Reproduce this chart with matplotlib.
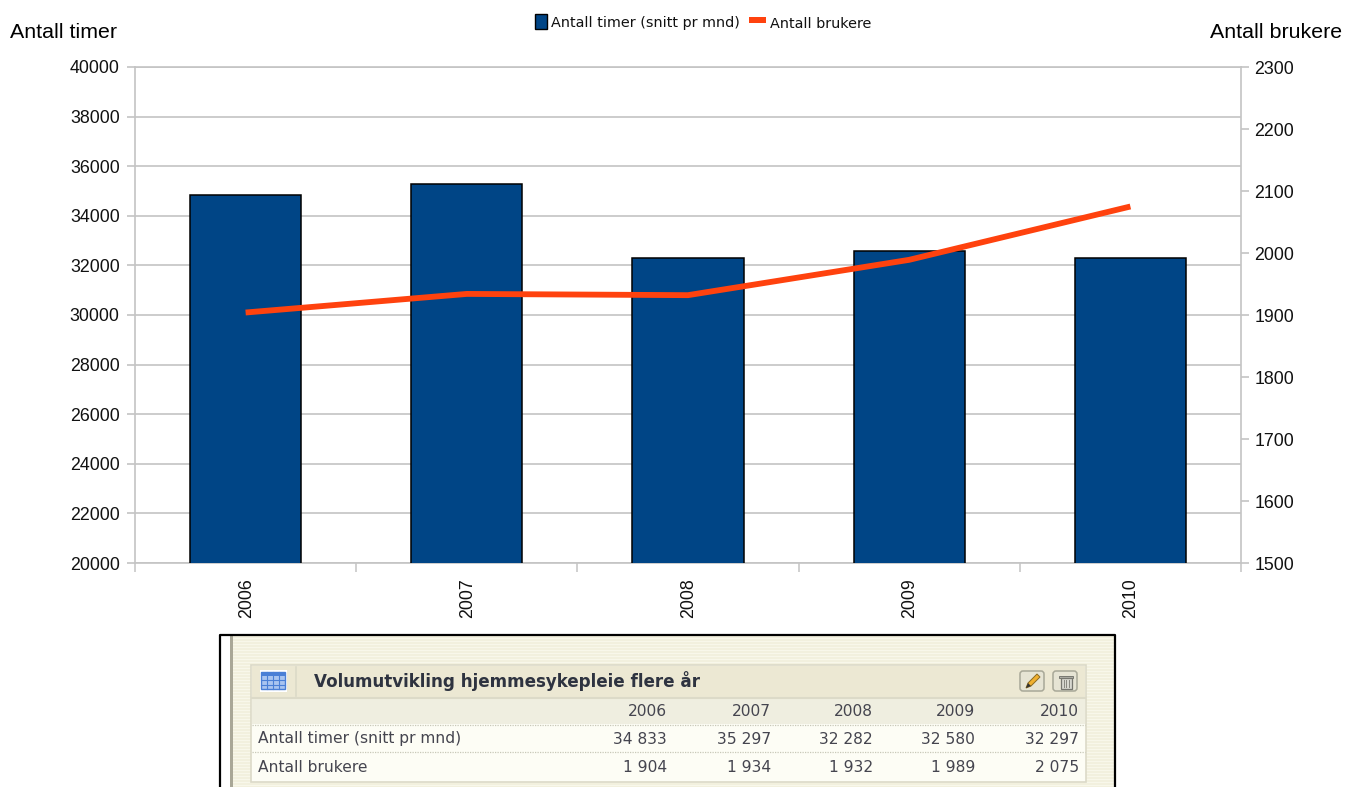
import numpy as np
import matplotlib
matplotlib.use('Agg')
import matplotlib.pyplot as plt
from matplotlib.patches import Rectangle, FancyBboxPatch, Polygon

years = ['2006', '2007', '2008', '2009', '2010']
timer = [34833, 35297, 32282, 32580, 32297]
brukere = [1904, 1934, 1932, 1989, 2075]
timer_labels = ['34 833', '35 297', '32 282', '32 580', '32 297']
brukere_labels = ['1 904', '1 934', '1 932', '1 989', '2 075']
left_ticks = list(range(20000, 40001, 2000))
right_ticks = list(range(1500, 2301, 100))

W, H = 1345, 787
plt.rcParams['font.family'] = ['Liberation Sans', 'DejaVu Sans']
fig = plt.figure(figsize=(W / 100, H / 100), dpi=100, facecolor='white')
GREY = '#c4c4c4'

# hovedgraf: stolper paa venstre akse, linje paa hoyre akse
ax = fig.add_axes([135 / W, 1 - 563 / H, (1241 - 135) / W, (563 - 67) / H])
x = np.arange(len(years))
ax.bar(x, timer, width=0.503, color='#004586', edgecolor='black', linewidth=1.1, zorder=3)
ax.set_xlim(-0.5, 4.5)
ax.set_ylim(20000, 40000)
ax.set_yticks(left_ticks)
ax.grid(axis='y', color=GREY, linewidth=1.2, zorder=0)
ax.set_xticks(np.arange(-0.5, 5, 1))
ax.set_xticklabels([])
ax.tick_params(axis='x', length=6.5, width=1.1, color=GREY)
ax.tick_params(axis='y', length=6, width=1.2, color=GREY, labelsize=12.8, pad=5, labelcolor='#111111')
for s in ax.spines.values():
    s.set_color(GREY)
    s.set_linewidth(1.2)
for xi, y in zip(x, years):
    ax.annotate(y, (xi, 0), xycoords=('data', 'axes fraction'), xytext=(0.5, -11),
                textcoords='offset points', rotation=90, ha='center', va='top',
                fontsize=12.8, color='#111111')

ax2 = ax.twinx()
ax2.plot(x, brukere, color='#ff420e', linewidth=4.2, solid_capstyle='butt', zorder=5)
ax2.set_ylim(1500, 2300)
ax2.set_yticks(right_ticks)
ax2.tick_params(axis='y', length=6, width=1.2, color=GREY, labelsize=12.8, pad=3.5, labelcolor='#111111')
for s in ax2.spines.values():
    s.set_visible(False)

# overlegg i pikselkoordinater for titler, tegnforklaring og tabell
ov = fig.add_axes([0, 0, 1, 1], zorder=10)
ov.set_xlim(0, W)
ov.set_ylim(H, 0)
ov.axis('off')

ov.text(10, 33, 'Antall timer', fontsize=15.4, va='center', color='black')
ov.text(1342, 33, 'Antall brukere', fontsize=15.4, va='center', ha='right', color='black')

# tegnforklaring
ov.add_patch(Rectangle((534.5, 14), 12, 15, fc='#004586', ec='black', lw=1))
ov.text(551, 23.5, 'Antall timer (snitt pr mnd)', fontsize=10.4, va='center', color='#111111',
        family=['DejaVu Sans'])
ov.add_patch(Rectangle((749, 17), 17, 6, fc='#ff420e', ec='none'))
ov.text(770, 23.5, 'Antall brukere', fontsize=10.4, va='center', color='#111111',
        family=['DejaVu Sans'])

# panel med tabell under grafen
ov.add_patch(Rectangle((233, 636), 881, 151, fc='#f2f0de', ec='none', zorder=1))
for yy in np.arange(638, 787, 3):
    ov.plot([233, 1113], [yy, yy], color='#f8f7ea', lw=0.8, zorder=1.1)
ov.add_patch(Rectangle((230, 636), 3, 151, fc='#a9a797', ec='none', zorder=1.2))
ov.plot([220, 220, 1115, 1115], [787, 635, 635, 787], color='black', lw=1.6, zorder=6)

ov.add_patch(Rectangle((251, 665), 835, 117, fc='#fdfdf5', ec='#dcdac8', lw=1.2, zorder=2))
ov.add_patch(Rectangle((252, 666), 833, 31, fc='#ece8d3', ec='none', zorder=2.1))
ov.add_patch(Rectangle((252, 697), 833, 27, fc='#efeee0', ec='none', zorder=2.1))
ov.plot([252, 1085], [697.5, 697.5], color='#dcdac8', lw=1.5, zorder=2.2)
ov.plot([296, 296], [667, 696], color='#dcdac8', lw=1.2, zorder=2.2)
for yy in (724.5, 752):
    ov.plot([252, 1085], [yy, yy], color='#c8c8b8', lw=0.9, ls=(0, (1, 1)), zorder=2.2)

# tabell-ikon
ov.add_patch(Rectangle((260, 670), 27, 22, fc='white', ec='none', zorder=3))
ov.add_patch(Rectangle((261, 672), 24, 17, fc='#a9c4f0', ec='#4a7fd6', lw=1, zorder=3.1))
ov.add_patch(Rectangle((261, 672), 24, 4, fc='#4a7fd6', ec='none', zorder=3.2))
for xx in (267, 273, 279):
    ov.plot([xx, xx], [672, 689], color='#4a7fd6', lw=0.8, zorder=3.3)
for yy in (680, 684.5):
    ov.plot([261, 285], [yy, yy], color='#4a7fd6', lw=0.8, zorder=3.3)

# knapper
for bx in (1020, 1053):
    ov.add_patch(FancyBboxPatch((bx, 671), 24, 20, boxstyle='round,pad=0,rounding_size=3',
                                fc='#e6e4d4', ec='#a8a898', lw=1.1, zorder=3))
ov.add_patch(Polygon([[1026, 688], [1028, 683], [1037, 674], [1040, 677], [1031, 686]],
                     fc='#f0b030', ec='#8a6a20', lw=0.7, zorder=3.2))
ov.add_patch(Polygon([[1026, 688], [1028, 683], [1031, 686]], fc='#333333', ec='none', zorder=3.3))
ov.add_patch(Rectangle((1059, 675.5), 14, 2, fc='#b0b0a8', ec='#777770', lw=0.7, zorder=3.2))
ov.add_patch(Rectangle((1060.5, 677.5), 11, 11, fc='#d8d8d0', ec='#777770', lw=0.9, zorder=3.2))
for xx in (1063.5, 1066, 1068.5):
    ov.plot([xx, xx], [679.5, 687], color='#888880', lw=0.7, zorder=3.3)

ov.text(314, 681, 'Volumutvikling hjemmesykepleie flere år', fontsize=12.1, fontweight='bold',
        family=['DejaVu Sans'], va='center', color='#2e3340', zorder=4)
ov.text(258, 739, 'Antall timer (snitt pr mnd)', fontsize=11.2, family=['DejaVu Sans'],
        va='center', color='#45454f', zorder=4)
ov.text(258, 767, 'Antall brukere', fontsize=11.2, family=['DejaVu Sans'],
        va='center', color='#45454f', zorder=4)
col_right = [667, 771, 873, 975, 1079]
for cx, y, t, b in zip(col_right, years, timer_labels, brukere_labels):
    ov.text(cx, 711.5, y, fontsize=11.2, family=['DejaVu Sans'], va='center', ha='right', color='#45454f', zorder=4)
    ov.text(cx, 739, t, fontsize=11.2, family=['DejaVu Sans'], va='center', ha='right', color='#45454f', zorder=4)
    ov.text(cx, 767, b, fontsize=11.2, family=['DejaVu Sans'], va='center', ha='right', color='#45454f', zorder=4)

fig.savefig('out.png', dpi=100)
